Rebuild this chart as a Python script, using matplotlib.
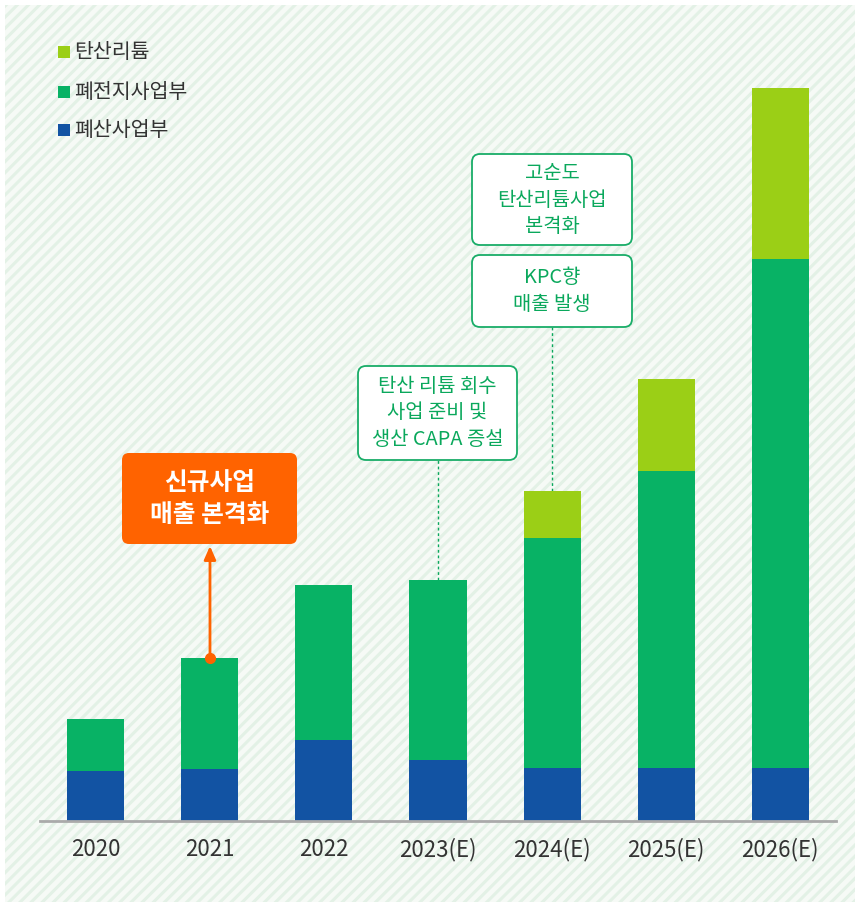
import matplotlib
matplotlib.use("Agg")
import matplotlib.pyplot as plt
from matplotlib.patches import Rectangle, FancyBboxPatch
import numpy as np

plt.rcParams['font.family'] = ['Noto Sans CJK KR', 'DejaVu Sans']
plt.rcParams['hatch.linewidth'] = 2.2

years = ["2020", "2021", "2022", "2023(E)", "2024(E)", "2025(E)", "2026(E)"]
waste_acid = [50, 52, 81, 61, 53, 53, 53]          # 폐산사업부
waste_battery = [52, 111, 155, 180, 230, 297, 509]  # 폐전지사업부
lithium = [0, 0, 0, 0, 47, 92, 171]               # 탄산리튬
series_names = ["탄산리튬", "폐전지사업부", "폐산사업부"]

C_LIME = "#9bcf16"
C_GREEN = "#08b265"
C_BLUE = "#1253a3"
C_ORANGE = "#ff6300"
C_BOXG = "#19ad68"
C_TXTG = "#0aa85c"
C_TXT = "#333333"

W, H = 860, 907
fig = plt.figure(figsize=(W / 100, H / 100), dpi=100)
fig.patch.set_facecolor("white")

# hatched background
bg = Rectangle((5 / W, 5 / H), 850 / W, 897 / H, transform=fig.transFigure,
               facecolor="#f6faf6", edgecolor="#e3f1e6", hatch="///", linewidth=0, zorder=-5)
fig.patches.append(bg)

BASE = 821
ax = fig.add_axes([40 / W, (H - BASE) / H, 796 / W, 816 / H])
ax.patch.set_alpha(0)
ax.set_ylim(0, 816)
ax.set_xlim(-0.491, 6.491)

x = np.arange(len(years))
wa = np.array(waste_acid)
wb = np.array(waste_battery)
li = np.array(lithium)
bw = 0.5
ax.bar(x, wa, width=bw, color=C_BLUE, zorder=2)
ax.bar(x, wb, width=bw, bottom=wa, color=C_GREEN, zorder=2)
ax.bar(x, li, width=bw, bottom=wa + wb, color=C_LIME, zorder=2)

for s in ["top", "left", "right"]:
    ax.spines[s].set_visible(False)
ax.spines["bottom"].set_color("#aaaaaa")
ax.spines["bottom"].set_linewidth(2)
ax.set_yticks([])
ax.set_xticks(x)
ax.set_xticklabels(years, fontsize=16, color=C_TXT)
ax.tick_params(axis="x", length=0, pad=12)

# overlay in pixel coords (top-down)
ov = fig.add_axes([0, 0, 1, 1])
ov.set_xlim(0, W)
ov.set_ylim(H, 0)
ov.axis("off")
ov.patch.set_alpha(0)

# legend
legend_cols = [C_LIME, C_GREEN, C_BLUE]
legend_y = [52, 92, 130]
for name, col, yy in zip(series_names, legend_cols, legend_y):
    ov.add_patch(Rectangle((58, yy - 6), 12, 12, facecolor=col, edgecolor="none"))
    ov.text(74, yy, name, fontsize=14.8, color=C_TXT, va="center", ha="left")

def box(x0, y0, x1, y1, fc, ec, lw=1.3, r=8):
    ov.add_patch(FancyBboxPatch((x0, y0), x1 - x0, y1 - y0,
                                boxstyle=f"round,pad=0,rounding_size={r}",
                                facecolor=fc, edgecolor=ec, linewidth=lw, zorder=5))

def px_to_data_y(py):
    return BASE - py

# orange box for 2021
box(122, 453, 297, 544, C_ORANGE, C_ORANGE, lw=0, r=7)
ov.text(209.5, 499, "신규사업\n매출 본격화", fontsize=17.8, fontweight="bold", color="white",
        ha="center", va="center", linespacing=1.42, zorder=6)
top21 = wa[1] + wb[1]
ax.annotate("", xy=(1, px_to_data_y(546)), xytext=(1, top21),
            arrowprops=dict(arrowstyle="-|>,head_length=0.8,head_width=0.35", color=C_ORANGE, lw=2,
                            shrinkA=0, shrinkB=0), zorder=4, annotation_clip=False)
ax.plot([1], [top21], marker="o", ms=7, color=C_ORANGE, zorder=4, clip_on=False)

# 2023 box
box(358, 366, 517, 460, "white", C_BOXG)
ov.text(437.5, 413, "탄산 리튬 회수\n사업 준비 및\n생산 CAPA 증설", fontsize=14.3, color=C_TXTG,
        fontweight="medium", ha="center", va="center", linespacing=1.33, zorder=6)
top23 = wa[3] + wb[3]
ax.plot([3, 3], [top23, px_to_data_y(460)], ls=(0, (2, 2)), color=C_TXTG, lw=1, zorder=1, clip_on=False)

# 2024 boxes
box(472, 154, 632, 245, "white", C_BOXG)
ov.text(552, 200, "고순도\n탄산리튬사업\n본격화", fontsize=14.3, color=C_TXTG,
        fontweight="medium", ha="center", va="center", linespacing=1.33, zorder=6)
box(472, 255, 632, 327, "white", C_BOXG)
ov.text(552, 291, "KPC향\n매출 발생", fontsize=14.3, color=C_TXTG,
        fontweight="medium", ha="center", va="center", linespacing=1.33, zorder=6)
top24 = wa[4] + wb[4] + li[4]
ax.plot([4, 4], [top24, px_to_data_y(327)], ls=(0, (2, 2)), color=C_TXTG, lw=1, zorder=1, clip_on=False)

fig.savefig("out.png", dpi=100)
